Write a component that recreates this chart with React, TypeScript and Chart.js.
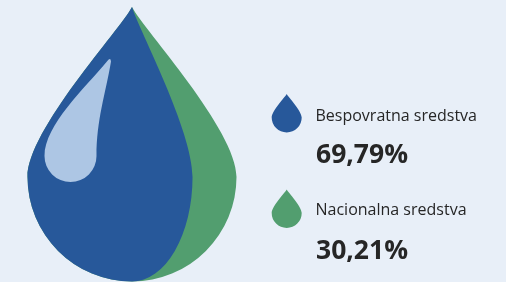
import { useEffect, useRef } from 'react';
import { Chart, registerables } from 'chart.js';

Chart.register(...registerables);

const categories = ['Bespovratna sredstva', 'Nacionalna sredstva'];
const shares = [69.79, 30.21];
const seriesColors = ['#27589a', '#529e6f'];

const BG = '#e8eff8';
const HIGHLIGHT = '#adc6e4';
const TEXT = '#262626';

function dropPath(ctx: CanvasRenderingContext2D, cx: number, tipY: number, cy: number, r: number, kRight = 1) {
  const h = cy - tipY;
  ctx.beginPath();
  ctx.moveTo(cx, tipY);
  ctx.bezierCurveTo(cx - 0.115 * r, tipY + 0.135 * h, cx - r, cy - 0.276 * h, cx - r, cy);
  ctx.arc(cx, cy, r, Math.PI, Math.PI / 2, true);
  ctx.ellipse(cx, cy, r * kRight, r, 0, Math.PI / 2, 0, true);
  ctx.bezierCurveTo(cx + r * kRight, cy - 0.276 * h, cx + 0.115 * r * kRight, tipY + 0.135 * h, cx, tipY);
  ctx.closePath();
}

const fmt = (v: number) => v.toFixed(2).replace('.', ',') + '%';

const dropPlugin = {
  id: 'dropPlugin',
  beforeDraw(chart: any) {
    const ctx: CanvasRenderingContext2D = chart.ctx;
    ctx.save();
    ctx.fillStyle = BG;
    ctx.fillRect(0, 0, chart.width, chart.height);
    ctx.restore();
  },
  afterDraw(chart: any) {
    const ctx: CanvasRenderingContext2D = chart.ctx;
    const data: number[] = chart.data.datasets[0].data;
    const colors: string[] = chart.data.datasets[0].hoverBackgroundColor;
    const labels: string[] = chart.data.labels;
    const total = data.reduce((a, b) => a + b, 0);
    const blueShare = data[0] / total;
    // visual split of the drop (right bulge of first series)
    const k = blueShare * 0.83;
    const cx = 132, tipY = 7, cy = 177, r = 104.5;
    ctx.save();
    // full drop (second series)
    dropPath(ctx, cx, tipY, cy, r, 1);
    ctx.fillStyle = colors[1];
    ctx.fill();
    // first series
    dropPath(ctx, cx, tipY, cy, r, k);
    ctx.fillStyle = colors[0];
    ctx.fill();
    // highlight
    ctx.beginPath();
    ctx.moveTo(106.5, 62);
    ctx.quadraticCurveTo(110.5, 56.5, 111, 61.5);
    ctx.bezierCurveTo(105.5, 94, 96.5, 120, 96.5, 156);
    ctx.arc(70.5, 156, 26, 0, Math.PI, false);
    ctx.bezierCurveTo(44.5, 125, 85, 88, 106.5, 62);
    ctx.closePath();
    ctx.fillStyle = HIGHLIGHT;
    ctx.fill();

    // legend
    const rows = [
      { tip: 94, cy: 117.5, labelY: 120.5, valueY: 163 },
      { tip: 189.5, cy: 213, labelY: 214.5, valueY: 258.5 },
    ];
    rows.forEach((row, i) => {
      dropPath(ctx, 286.7, row.tip, row.cy, 15, 1);
      ctx.fillStyle = colors[i];
      ctx.fill();
      ctx.fillStyle = TEXT;
      ctx.textBaseline = 'alphabetic';
      ctx.textAlign = 'left';
      ctx.font = '16px "Open Sans"';
      ctx.fillText(labels[i], 315.5, row.labelY);
      ctx.font = 'bold 26.5px "Open Sans"';
      ctx.fillText(fmt(data[i]), 316, row.valueY);
    });
    ctx.restore();
  },
};

export default function App() {
  const ref = useRef<HTMLCanvasElement | null>(null);
  useEffect(() => {
    document.body.style.margin = '0';
    document.body.style.background = BG;
    if (!ref.current) return;
    const chart = new Chart(ref.current, {
      type: 'doughnut',
      data: {
        labels: categories,
        datasets: [
          {
            data: shares,
            backgroundColor: 'rgba(0,0,0,0)',
            hoverBackgroundColor: seriesColors,
            borderWidth: 0,
          },
        ],
      },
      options: {
        responsive: false,
        animation: false,
        events: [],
        plugins: {
          legend: { display: false },
          tooltip: { enabled: false },
        },
      },
      plugins: [dropPlugin],
    } as any);
    return () => chart.destroy();
  }, []);
  return (
    <div style={{ width: 506, height: 282 }}>
      <canvas ref={ref} width={506} height={282} style={{ display: 'block', width: 506, height: 282 }} />
    </div>
  );
}
